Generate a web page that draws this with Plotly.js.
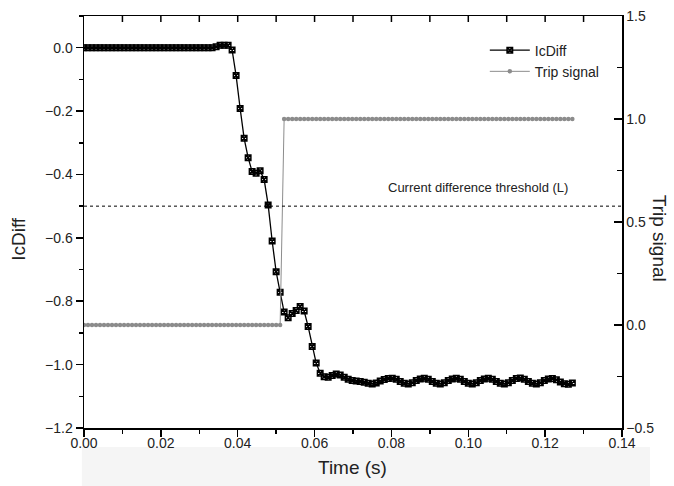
<!DOCTYPE html>
<html>
<head>
<meta charset="utf-8">
<script src="https://cdn.plot.ly/plotly-3.0.1.min.js"></script>
<style>html,body{margin:0;padding:0;background:#fff;}#chart{width:674px;height:486px;}</style>
</head>
<body>
<div id="chart"></div>
<script>
// Sample times (s)
var timeS = [0,0.00104,0.00208,0.00313,0.00417,0.00521,0.00625,0.00729,0.00833,0.00938,
0.01042,0.01146,0.0125,0.01354,0.01458,0.01563,0.01667,0.01771,0.01875,0.01979,
0.02083,0.02188,0.02292,0.02396,0.025,0.02604,0.02708,0.02813,0.02917,0.03021,
0.03125,0.03229,0.03333,0.03438,0.03542,0.03646,0.0375,0.03854,0.03958,0.04063,
0.04167,0.04271,0.04375,0.04479,0.04583,0.04688,0.04792,0.04896,0.05,0.05104,
0.05208,0.05313,0.05417,0.05521,0.05625,0.05729,0.05833,0.05938,0.06042,0.06146,
0.0625,0.06354,0.06458,0.06563,0.06667,0.06771,0.06875,0.06979,0.07083,0.07188,
0.07292,0.07396,0.075,0.07604,0.07708,0.07813,0.07917,0.08021,0.08125,0.08229,
0.08333,0.08438,0.08542,0.08646,0.0875,0.08854,0.08958,0.09063,0.09167,0.09271,
0.09375,0.09479,0.09583,0.09688,0.09792,0.09896,0.1,0.10104,0.10208,0.10313,
0.10417,0.10521,0.10625,0.10729,0.10833,0.10938,0.11042,0.11146,0.1125,0.11354,
0.11458,0.11563,0.11667,0.11771,0.11875,0.11979,0.12083,0.12188,0.12292,0.12396,
0.125,0.12604,0.12708];

// IcDiff values
var icDiff = [0,0,0,0,0,0,0,0,0,0,
0,0,0,0,0,0,0,0,0,0,
0,0,0,0,0,0,0,0,0,0,
0,0,0,0.003,0.008,0.008,0.008,-0.007,-0.088,-0.192,
-0.286,-0.347,-0.391,-0.396,-0.388,-0.416,-0.496,-0.610,-0.707,-0.772,
-0.834,-0.852,-0.839,-0.829,-0.817,-0.831,-0.880,-0.943,-0.995,-1.027,
-1.038,-1.040,-1.034,-1.030,-1.033,-1.040,-1.046,-1.050,-1.052,-1.053,
-1.056,-1.059,-1.061,-1.058,-1.052,-1.047,-1.044,-1.043,-1.046,-1.053,
-1.059,-1.061,-1.057,-1.050,-1.045,-1.043,-1.046,-1.053,-1.059,-1.061,
-1.057,-1.050,-1.045,-1.043,-1.046,-1.053,-1.059,-1.061,-1.057,-1.050,
-1.045,-1.043,-1.046,-1.053,-1.059,-1.061,-1.057,-1.050,-1.044,-1.042,
-1.046,-1.053,-1.059,-1.061,-1.057,-1.050,-1.045,-1.044,-1.048,-1.055,
-1.060,-1.062,-1.058];

// Trip signal values
var tripSignal = [0,0,0,0,0,0,0,0,0,0,
0,0,0,0,0,0,0,0,0,0,
0,0,0,0,0,0,0,0,0,0,
0,0,0,0,0,0,0,0,0,0,
0,0,0,0,0,0,0,0,0,0,
1,1,1,1,1,1,1,1,1,1,
1,1,1,1,1,1,1,1,1,1,
1,1,1,1,1,1,1,1,1,1,
1,1,1,1,1,1,1,1,1,1,
1,1,1,1,1,1,1,1,1,1,
1,1,1,1,1,1,1,1,1,1,
1,1,1,1,1,1,1,1,1,1,
1,1,1];

var thresholdValue = -0.5;
var thresholdLabel = 'Current difference threshold (L)';
var seriesNames = ['IcDiff', 'Trip signal'];
var xTitle = 'Time (s)';
var yTitle = 'IcDiff';
var y2Title = 'Trip signal';
var xRange = [0, 0.14];
var yRange = [-1.2, 0.1];
var y2Range = [-0.5, 1.5];
// inward ticks along the top frame edge
var topTickVals = [0.01,0.02,0.03,0.04,0.05,0.06,0.07,0.08,0.09,0.10,0.11,0.12,0.13];

var FONT = 'Liberation Sans, Arial, sans-serif';

var traces = [
  {
    x: timeS, y: icDiff, name: seriesNames[0], type: 'scatter', mode: 'lines+markers',
    xaxis: 'x', yaxis: 'y',
    line: {color: '#000', width: 1.3},
    marker: {symbol: 'square-x-open', size: 5.5, color: '#000', line: {color: '#000', width: 1.5}}
  },
  {
    x: timeS, y: tripSignal, name: seriesNames[1], type: 'scatter', mode: 'lines+markers',
    xaxis: 'x', yaxis: 'y2',
    line: {color: '#8c8c8c', width: 1},
    marker: {symbol: 'circle', size: 4.5, color: '#8c8c8c'}
  }
];

var axisCommon = {
  showgrid: false, zeroline: false, showline: true, linecolor: '#000', linewidth: 1.5,
  tickcolor: '#000', tickwidth: 1.5,
  tickfont: {family: FONT, size: 14, color: '#222'}
};

var shapes = [
  {type: 'rect', xref: 'paper', yref: 'paper', x0: -0.004, x1: 1.052, y0: -0.141, y1: -0.046,
   fillcolor: '#f5f5f5', line: {width: 0}, layer: 'below'},
  {type: 'line', xref: 'paper', yref: 'y', x0: 0, x1: 1, y0: thresholdValue, y1: thresholdValue,
   line: {color: '#000', width: 1, dash: 'dot'}}
];
topTickVals.forEach(function (v) {
  shapes.push({type: 'line', xref: 'x', yref: 'paper', ysizemode: 'pixel', yanchor: 1,
    x0: v, x1: v, y0: 0, y1: -6, line: {color: '#000', width: 1.5}});
});

var layout = {
  width: 674, height: 486,
  margin: {l: 84, r: 52, t: 16, b: 58},
  paper_bgcolor: '#fff', plot_bgcolor: 'rgba(0,0,0,0)',
  showlegend: true,
  legend: {
    x: 0.745, y: 0.955, xanchor: 'left', yanchor: 'top',
    bgcolor: 'rgba(0,0,0,0)', borderwidth: 0,
    font: {family: FONT, size: 14, color: '#222'},
    traceorder: 'normal', itemwidth: 40, tracegroupgap: 0
  },
  xaxis: Object.assign({}, axisCommon, {
    range: xRange, dtick: 0.02, tick0: 0, tickformat: '.2f', side: 'bottom', anchor: 'y',
    ticks: 'outside', ticklen: 7, ticklabelstandoff: -5, mirror: true,
    minor: {dtick: 0.01, ticks: 'outside', ticklen: 4, tickcolor: '#000', tickwidth: 1.5}
  }),
  yaxis: Object.assign({}, axisCommon, {
    range: yRange, dtick: 0.2, tick0: 0, tickformat: '.1f', side: 'left', anchor: 'x',
    ticks: 'outside', ticklen: 7,
    minor: {dtick: 0.1, ticks: 'outside', ticklen: 4, tickcolor: '#000', tickwidth: 1.5}
  }),
  yaxis2: Object.assign({}, axisCommon, {
    range: y2Range, dtick: 0.5, tick0: 0, tickformat: '.1f',
    overlaying: 'y', side: 'right', anchor: 'x',
    ticks: 'inside', ticklen: 8,
    minor: {dtick: 0.25, ticks: 'inside', ticklen: 5, tickcolor: '#000', tickwidth: 1.5}
  }),
  shapes: shapes,
  annotations: [
    {text: thresholdLabel, xref: 'x', yref: 'y', x: 0.1026, y: thresholdValue, yshift: 19,
     xanchor: 'center', showarrow: false, font: {family: FONT, size: 13, color: '#222'}},
    {text: xTitle, xref: 'paper', yref: 'paper', x: 0.499, y: -0.097, xanchor: 'center', yanchor: 'middle',
     showarrow: false, font: {family: FONT, size: 19, color: '#222'}},
    {text: yTitle, xref: 'paper', yref: 'paper', x: -0.122, y: 0.46, xanchor: 'center', yanchor: 'middle',
     textangle: -90, showarrow: false, font: {family: FONT, size: 19, color: '#222'}},
    {text: y2Title, xref: 'paper', yref: 'paper', x: 1.07, y: 0.46, xanchor: 'center', yanchor: 'middle',
     textangle: 90, showarrow: false, font: {family: FONT, size: 19, color: '#222'}}
  ]
};

Plotly.newPlot('chart', traces, layout, {displayModeBar: false, staticPlot: true});
</script>
</body>
</html>
